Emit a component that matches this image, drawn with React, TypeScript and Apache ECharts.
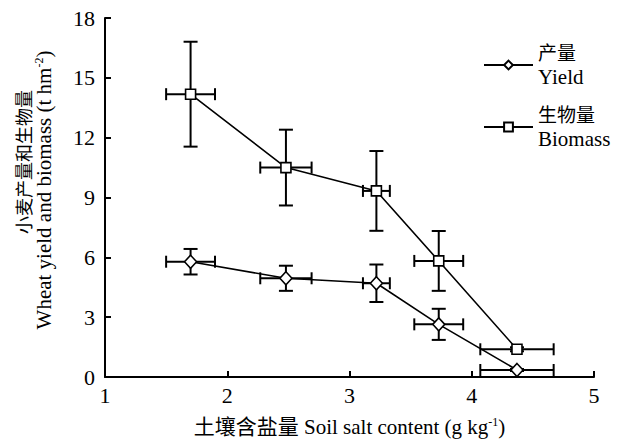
import React, { useEffect, useRef } from "react";
import * as echarts from "echarts";

const xValues = [1.7, 2.48, 3.22, 3.73, 4.37];
const xErrors = [0.2, 0.21, 0.11, 0.2, 0.3];
const yieldValues = [5.78, 4.95, 4.7, 2.64, 0.35];
const yieldErrors = [0.64, 0.63, 0.94, 0.78, 0.05];
const biomassValues = [14.18, 10.5, 9.33, 5.82, 1.39];
const biomassErrors = [2.63, 1.9, 2.0, 1.5, 0.1];
const xTicks = [1, 2, 3, 4, 5];
const yTicks = [0, 3, 6, 9, 12, 15, 18];
const legendZh = ["产量", "生物量"];
const legendEn = ["Yield", "Biomass"];

const SERIF = "'Liberation Serif', 'Noto Sans CJK SC', serif";

function errorBarSeries(values: number[], errors: number[], name: string) {
  const data = xValues.map((x, i) => [x, values[i], xErrors[i], errors[i]]);
  return {
    type: "custom",
    name: name + "-err",
    z: 1,
    silent: true,
    renderItem: (params: any, api: any) => {
      const x = api.value(0);
      const y = api.value(1);
      const xe = api.value(2);
      const ye = api.value(3);
      const c = api.coord([x, y]);
      const top = api.coord([x, y + ye]);
      const bot = api.coord([x, y - ye]);
      const left = api.coord([x - xe, y]);
      const right = api.coord([x + xe, y]);
      const cw = 7;
      const ch = 6;
      const style = { stroke: "#000", lineWidth: 2 };
      return {
        type: "group",
        children: [
          { type: "line", shape: { x1: c[0], y1: top[1], x2: c[0], y2: bot[1] }, style },
          { type: "line", shape: { x1: c[0] - cw, y1: top[1], x2: c[0] + cw, y2: top[1] }, style },
          { type: "line", shape: { x1: c[0] - cw, y1: bot[1], x2: c[0] + cw, y2: bot[1] }, style },
          { type: "line", shape: { x1: left[0], y1: c[1], x2: right[0], y2: c[1] }, style },
          { type: "line", shape: { x1: left[0], y1: c[1] - ch, x2: left[0], y2: c[1] + ch }, style },
          { type: "line", shape: { x1: right[0], y1: c[1] - ch, x2: right[0], y2: c[1] + ch }, style },
        ],
      };
    },
    data,
  };
}

const tickRich = { t: { fontFamily: SERIF, fontSize: 22, color: "#000" } };

export default function App() {
  const ref = useRef<HTMLDivElement>(null);
  useEffect(() => {
    if (!ref.current) return;
    const chart = echarts.init(ref.current, null, { renderer: "svg" });
    const seriesNames = [legendZh[0] + "\n" + legendEn[0], legendZh[1] + "\n" + legendEn[1]];
    const option: any = {
      animation: false,
      backgroundColor: "#fff",
      textStyle: { fontFamily: SERIF },
      grid: { left: 105, right: 26, top: 18, bottom: 66, containLabel: false, outerBoundsMode: "none" },
      xAxis: {
        type: "value",
        min: xTicks[0],
        max: xTicks[xTicks.length - 1],
        interval: 1,
        splitLine: { show: false },
        axisLine: { onZero: false, lineStyle: { color: "#000", width: 2 } },
        axisTick: { inside: true, length: 6, lineStyle: { color: "#000", width: 2 } },
        axisLabel: {
          color: "#000",
          fontFamily: SERIF,
          fontSize: 22,
          margin: 7,
          formatter: (v: number) => `{t|${v}}`,
          rich: tickRich,
        },
        name: "{m|土壤含盐量 Soil salt content (g kg}{sup|-1}{m|)}",
        nameLocation: "middle",
        nameGap: 39,
        nameTextStyle: {
          color: "#000",
          fontFamily: SERIF,
          fontSize: 21,
          lineHeight: 22,
          rich: {
            m: { fontFamily: SERIF, fontSize: 21, lineHeight: 22, color: "#000" },
            sup: { fontFamily: SERIF, fontSize: 12, verticalAlign: "top", lineHeight: 22, color: "#000" },
          },
        },
      },
      yAxis: {
        type: "value",
        min: yTicks[0],
        max: yTicks[yTicks.length - 1],
        interval: 3,
        splitLine: { show: false },
        axisLine: { show: true, lineStyle: { color: "#000", width: 2 } },
        axisTick: { show: true, inside: true, length: 6, lineStyle: { color: "#000", width: 2 } },
        axisLabel: {
          color: "#000",
          fontFamily: SERIF,
          fontSize: 22,
          margin: 10,
          formatter: (v: number) => `{t|${v}}`,
          rich: tickRich,
        },
      },
      legend: {
        orient: "vertical",
        left: 483,
        top: 42,
        padding: 0,
        itemWidth: 49,
        itemHeight: 11,
        itemGap: 16,
        formatter: (name: string) => {
          const parts = name.split("\n");
          return `{z|${parts[0]}}\n{t|${parts[1]}}`;
        },
        textStyle: {
          color: "#000",
          fontFamily: SERIF,
          fontSize: 21,
          lineHeight: 23,
          rich: {
            z: { fontFamily: SERIF, fontSize: 19, lineHeight: 23, color: "#000" },
            t: { fontFamily: SERIF, fontSize: 21, lineHeight: 23, color: "#000" },
          },
        },
        data: seriesNames.map((n) => ({ name: n })),
      },
      graphic: [
        {
          type: "text",
          x: 23,
          y: 162,
          rotation: Math.PI / 2,
          style: {
            text: "{c|小麦产量和生物量}",
            fill: "#000",
            align: "center",
            verticalAlign: "middle",
            rich: { c: { fontFamily: "'Noto Sans CJK SC', serif", fontSize: 18, fill: "#000" } },
          },
        },
        {
          type: "text",
          x: 44,
          y: 190,
          rotation: Math.PI / 2,
          style: {
            text: "{m|Wheat yield and biomass (t hm}{sup|-2}{m|)}",
            fontFamily: SERIF,
            fontSize: 21,
            lineHeight: 22,
            fill: "#000",
            align: "center",
            verticalAlign: "middle",
            rich: {
              m: { fontFamily: SERIF, fontSize: 21, lineHeight: 22, fill: "#000" },
              sup: { fontFamily: SERIF, fontSize: 12, verticalAlign: "top", lineHeight: 22, fill: "#000" },
            },
          },
        },
      ],
      series: [
        errorBarSeries(yieldValues, yieldErrors, "yield"),
        errorBarSeries(biomassValues, biomassErrors, "biomass"),
        {
          type: "line",
          name: seriesNames[0],
          z: 3,
          data: xValues.map((x, i) => [x, yieldValues[i]]),
          symbol: "diamond",
          symbolSize: [12, 13],
          lineStyle: { color: "#000", width: 1.6 },
          itemStyle: { color: "#fff", borderColor: "#000", borderWidth: 1.6 },
        },
        {
          type: "line",
          name: seriesNames[1],
          z: 3,
          data: xValues.map((x, i) => [x, biomassValues[i]]),
          symbol: "rect",
          symbolSize: 10,
          lineStyle: { color: "#000", width: 1.6 },
          itemStyle: { color: "#fff", borderColor: "#000", borderWidth: 1.6 },
        },
      ],
    };
    chart.setOption(option);
    return () => chart.dispose();
  }, []);
  return <div ref={ref} style={{ width: 620, height: 443, position: "absolute", left: 0, top: 0 }} />;
}
